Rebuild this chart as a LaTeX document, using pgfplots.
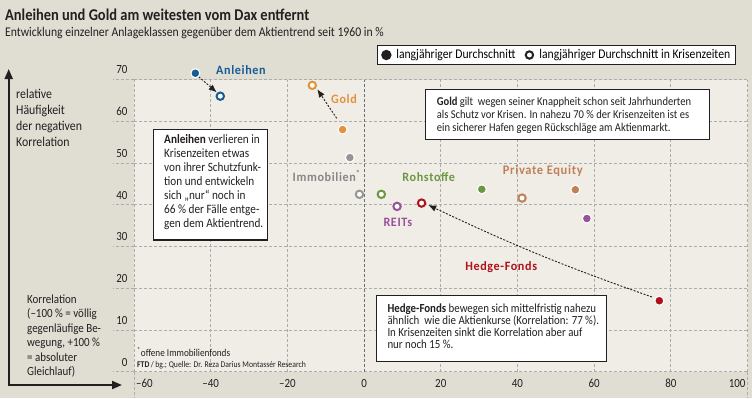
\documentclass[border=0pt]{standalone}
\usepackage{fontspec}
\setmainfont{Carlito}[FakeStretch=0.88]
\newfontfamily\lblfont{Carlito}[FakeStretch=0.95, LetterSpace=5]
\usepackage{pgfplots}
\pgfplotsset{compat=1.18}
\usetikzlibrary{arrows.meta}
\definecolor{outerbg}{RGB}{224,221,211}
\definecolor{innerbg}{RGB}{240,237,231}
\definecolor{gridc}{RGB}{172,172,172}
\definecolor{zeroc}{RGB}{110,110,110}
\definecolor{textc}{RGB}{35,31,32}
\definecolor{cAnl}{RGB}{22,92,150}
\definecolor{cGold}{RGB}{226,146,58}
\definecolor{cImmo}{RGB}{150,150,150}
\definecolor{cImmoT}{RGB}{135,135,135}
\definecolor{cRoh}{RGB}{106,152,62}
\definecolor{cPE}{RGB}{192,128,88}
\definecolor{cREIT}{RGB}{152,80,152}
\definecolor{cHedge}{RGB}{176,16,26}
\pgfplotsset{
  filledpt/.style={only marks, mark=*, mark size=4.5bp, mark options={fill=#1, draw=white, line width=1.1bp}, forget plot},
  hollowpt/.style={only marks, mark=*, mark size=3.7bp, mark options={fill=white, draw=#1, line width=2bp}, forget plot},
  mylegimg/.style={legend image code/.code={\path[draw=none] (0bp,0bp) -- (14bp,0bp); \draw[##1] plot coordinates {(6bp,0bp)};}},
}
\begin{document}
\begin{tikzpicture}[font=\fontsize{11.5}{13}\selectfont]
\begin{scope}[x=1bp,y=-1bp]
\fill[outerbg] (0,0) rectangle (752,398);
\fill[innerbg] (134,79.5) rectangle (747.5,371.7);
\end{scope}
\begin{axis}[
  at={(134bp,-371.7bp)}, anchor=south west,
  scale only axis, width=613.5bp, height=292.2bp,
  xmin=-60, xmax=100, ymin=0, ymax=70,
  xtick={-60,-40,...,100}, ytick={0,10,...,70},
  xticklabels={\rlap{\,–60},–40,–20,0,20,40,60,80,\llap{100\,}},
  yticklabels={0,10,20,30,40,50,60,70},
  grid=major,
  major grid style={gridc, dash pattern=on 3bp off 2bp, line width=0.8bp},
  axis line style={draw=none},
  tick style={draw=none},
  clip=false,
  ticklabel style={font=\fontsize{12.5}{14}\selectfont, text=textc},
  yticklabel style={anchor=south east, yshift=2bp, xshift=-3bp},
  xticklabel style={yshift=-4bp},
  legend columns=2,
  legend style={at={(0.981,1.118)}, anchor=north east, draw=textc, line width=1.3bp, fill=white,
    font=\fontsize{13.3}{15}\selectfont, inner xsep=3bp, inner ysep=2bp,
    /tikz/every even column/.append style={column sep=6bp}},
  legend cell align=left,
]
\pgfplotsinvokeforeach{0,10,...,70}{\draw[gridc, dash pattern=on 3bp off 2bp, line width=0.8bp] (axis cs:-60,#1) -- ++(-21bp,0bp);}
\draw[gridc, dash pattern=on 3bp off 2bp, line width=0.8bp] (axis cs:-60,0) -- ++(0bp,-26.3bp);
\draw[gridc, dash pattern=on 3bp off 2bp, line width=0.8bp] (axis cs:100,0) -- ++(0bp,-26.3bp);
\draw[zeroc, dash pattern=on 3bp off 2bp, line width=1bp] (axis cs:0,0) -- (axis cs:0,70);
% arrows
\draw[textc, line width=0.9bp, dash pattern=on 2bp off 1.5bp, -{Latex[length=8bp,width=6.5bp]}] (axis cs:-43.13,70.67) -- (axis cs:-38.43,66.93);
\draw[textc, line width=0.9bp, dash pattern=on 2bp off 1.5bp, -{Latex[length=8bp,width=6.5bp]}] (axis cs:-7.14,60.70) -- (axis cs:-12.20,67.65);
\draw[textc, line width=0.9bp, dash pattern=on 2bp off 1.5bp, -{Latex[length=8bp,width=6.5bp]}] (axis cs:75.09,17.90) to[bend left=3] (axis cs:16.75,39.93);
% data: long-term average (filled) and in crises (hollow)
\addplot[filledpt=cAnl] coordinates {(-44,71.5)};
\addplot[hollowpt=cAnl] coordinates {(-37.5,66)};
\addplot[filledpt=cGold] coordinates {(-5.6,58)};
\addplot[hollowpt=cGold] coordinates {(-13.5,68.6)};
\addplot[filledpt=cImmo] coordinates {(-3.7,51.3)};
\addplot[hollowpt=cImmo] coordinates {(-1.2,42.5)};
\addplot[filledpt=cRoh] coordinates {(30.7,43.7)};
\addplot[hollowpt=cRoh] coordinates {(4.5,42.5)};
\addplot[filledpt=cPE] coordinates {(55.1,43.6)};
\addplot[hollowpt=cPE] coordinates {(41.2,41.6)};
\addplot[filledpt=cREIT] coordinates {(58.1,36.7)};
\addplot[hollowpt=cREIT] coordinates {(8.6,39.6)};
\addplot[filledpt=cHedge] coordinates {(77,17)};
\addplot[hollowpt=cHedge] coordinates {(15,40.4)};
\addlegendimage{mylegimg, only marks, mark=*, mark size=4.5bp, mark options={fill=textc, draw=textc}}
\addlegendentry{langjähriger Durchschnitt}
\addlegendimage{mylegimg, only marks, mark=*, mark size=3.7bp, mark options={fill=white, draw=textc, line width=2bp}}
\addlegendentry{langjähriger Durchschnitt in Krisenzeiten}
\end{axis}
\begin{scope}[x=1bp,y=-1bp]
% titles
\node[anchor=base west, inner sep=0, font=\bfseries\fontsize{16.5}{18}\selectfont, text=textc] at (5,20.5) {Anleihen und Gold am weitesten vom Dax entfernt};
\node[anchor=base west, inner sep=0, font=\fontsize{13.35}{15}\selectfont, text=textc] at (5,36) {Entwicklung einzelner Anlageklassen gegenüber dem Aktientrend seit 1960 in \%};
% left axis arrows
\draw[textc, line width=2bp, {Triangle[length=10bp,width=8bp]}-{Triangle[length=10bp,width=8bp]}] (8.7,69) -- (8.7,385) -- (122,385);
\node[anchor=base west, inner sep=0, align=left, font=\fontsize{13.5}{16}\selectfont, text=textc] at (16,146) {relative\\Häufigkeit\\der negativen\\Korrelation};
\node[anchor=base west, inner sep=0, align=left, font=\fontsize{12.5}{14.5}\selectfont, text=textc] at (27,375.5) {Korrelation\\(–100 \% = völlig\\gegenläufige Be-\\wegung, +100 \%\\= absoluter\\Gleichlauf)};
% series labels
\node[anchor=west, inner sep=0, font=\lblfont\bfseries\fontsize{12.8}{14}\selectfont, text=cAnl] at (216,70) {Anleihen};
\node[inner sep=0, font=\lblfont\bfseries\fontsize{12.8}{14}\selectfont, text=cGold] at (344,99.3) {Gold};
\node[inner sep=0, font=\lblfont\bfseries\fontsize{12.8}{14}\selectfont, text=cImmoT] at (326.7,176) {Immobilien\textsuperscript{*}};
\node[inner sep=0, font=\lblfont\bfseries\fontsize{12.8}{14}\selectfont, text=cRoh] at (428.7,177.3) {Rohstoffe};
\node[inner sep=0, font=\lblfont\bfseries\fontsize{13.2}{14}\selectfont, text=cPE] at (542.8,170.7) {Private Equity};
\node[inner sep=0, font=\lblfont\bfseries\fontsize{12.8}{14}\selectfont, text=cREIT] at (397.8,222.7) {REITs};
\node[inner sep=0, font=\lblfont\bfseries\fontsize{12.8}{14}\selectfont, text=cHedge] at (501.2,266.7) {Hedge-Fonds};
% text boxes
\filldraw[fill=white, draw=textc, line width=1.2bp] (153.3,129.3) rectangle (267.3,240);
\node[anchor=base west, inner sep=0, align=left, font=\fontsize{12.8}{14}\selectfont, text=textc] at (164,227.5) {\textbf{Anleihen} verlieren in\\Krisenzeiten etwas\\von ihrer Schutzfunk-\\tion und entwickeln\\sich „nur“ noch in\\66 \% der Fälle entge-\\gen dem Aktientrend.};
\filldraw[fill=white, draw=textc, line width=1.2bp] (425.7,89.3) rectangle (709.3,139.3);
\node[anchor=base west, inner sep=0, align=left, font=\fontsize{12}{13}\selectfont, text=textc] at (436.7,131.5) {\textbf{Gold} gilt\ \ wegen seiner Knappheit schon seit Jahrhunderten\\als Schutz vor Krisen. In nahezu 70 \% der Krisenzeiten ist es\\ein sicherer Hafen gegen Rückschläge am Aktienmarkt.};
\filldraw[fill=white, draw=textc, line width=1.2bp] (376.5,295.7) rectangle (606.7,361.7);
\node[anchor=base west, inner sep=0, align=left, font=\fontsize{12.4}{12}\selectfont, text=textc] at (387.3,348.5) {\textbf{Hedge-Fonds} bewegen sich mittelfristig nahezu\\ähnlich\ \ wie die Aktienkurse (Korrelation: 77 \%).\\In Krisenzeiten sinkt die Korrelation aber auf\\nur noch 15 \%.};
% footnote
\node[anchor=base west, inner sep=0, font=\fontsize{10.5}{12}\selectfont, text=textc] at (137,356) {\textsuperscript{*}offene Immobilienfonds};
\node[anchor=base west, inner sep=0, font=\fontsize{8.8}{10}\selectfont, text=textc] at (137,367) {\textbf{FTD}\,/\,bg.; Quelle: Dr. Reza Darius Montassér Research};
\end{scope}
\end{tikzpicture}
\end{document}
